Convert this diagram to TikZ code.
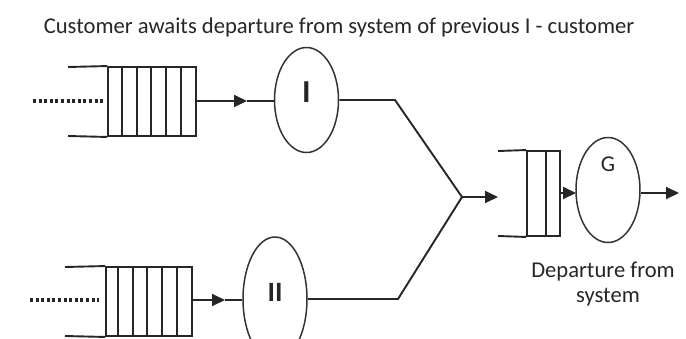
\documentclass[tikz,border=0pt]{standalone}
\usepackage{fontspec}
\setmainfont{Carlito}
\usetikzlibrary{shapes.geometric,arrows.meta}
\begin{document}
\begin{tikzpicture}[x=1pt,y=-1pt,
  ln/.style={line width=1.9pt, draw=black!85},
  srv/.style={ellipse, draw=black!80, line width=1.5pt, inner sep=0pt, minimum width=64pt},
  arr/.style={-{Triangle[length=13pt,width=12pt]}},
  dotline/.style={line width=3.2pt, draw=black!85, dash pattern=on 3pt off 2.6pt},
  txt/.style={font=\fontsize{22.6}{26}\selectfont, text=black!85, inner sep=0pt},
  qbox/.style={draw=black!85, line width=1.9pt, inner sep=0pt},
]
\useasboundingbox (0,0) rectangle (686,338);
% title
\node[txt, anchor=base] (title) at (339,33) {Customer awaits departure from system of previous I - customer};
% queue I
\node[qbox, minimum width=88pt, minimum height=69pt] (q1) at (152,101.5) {};
\coordinate (q1a) at (68,67);
\coordinate (q1b) at (68,136);
\draw[ln] (q1a) -- (q1.north west);
\draw[ln] (q1b) -- (q1.south west);
\foreach \x in {122,137,151,166,181} \draw[ln] (\x,67) -- (\x,136);
\coordinate (d1a) at (33,101);
\coordinate (d1b) at (103,101);
\draw[dotline] (d1a) -- (d1b);
% server I
\node[srv, minimum height=105pt, label={[txt, font=\fontsize{32}{36}\selectfont\bfseries, yshift=8pt]center:I}] (e1) at (306.5,100) {};
\coordinate (t1) at (247,101);
\draw[ln, arr] (q1.east |- t1) -- (t1);
\draw[ln] (t1) -- (e1.west |- t1);
% queue II
\node[qbox, minimum width=86pt, minimum height=69pt] (q2) at (149,301.5) {};
\coordinate (q2a) at (65,267);
\coordinate (q2b) at (65,336);
\draw[ln] (q2a) -- (q2.north west);
\draw[ln] (q2b) -- (q2.south west);
\foreach \x in {118.3,132.7,146.7,161.7,177.3} \draw[ln] (\x,267) -- (\x,336);
\coordinate (d2a) at (30,300);
\coordinate (d2b) at (99,300);
\draw[dotline] (d2a) -- (d2b);
% server II
\node[srv, minimum height=124pt, label={[txt, font=\fontsize{28}{32}\selectfont\bfseries, yshift=7pt]center:II}] (e2) at (275,299) {};
\coordinate (t2) at (225,300);
\draw[ln, arr] (q2.east |- t2) -- (t2);
\draw[ln] (t2) -- (e2.west |- t2);
% merge
\coordinate (m) at (462,197);
\coordinate (b1) at (395,100);
\coordinate (b2) at (398,299);
\draw[ln] (e1.east) -- (b1) -- (m);
\draw[ln] (e2.east) -- (b2) -- (m);
% queue G
\node[qbox, minimum width=33pt, minimum height=85pt] (qg) at (543.5,193.5) {};
\coordinate (qga) at (498,151);
\coordinate (qgb) at (498,236);
\draw[ln] (qga) -- (qg.north west);
\draw[ln] (qgb) -- (qg.south west);
\draw[ln] (546,151) -- (546,236);
\draw[ln, arr] (m) -- (qga |- m);
% server G
\node[srv, minimum height=105pt, label={[txt, yshift=26pt]center:G}] (eg) at (608,190) {};
\coordinate (tg) at (576,193);
\draw[ln, arr] (qg.east |- tg) -- (tg);
\coordinate (out) at (679,193);
\draw[ln, arr] (eg.east |- out) -- (out);
% departure text
\node[txt, anchor=base] (dep) at (603,277) {Departure from};
\node[txt, anchor=base] (sys) at (608,302) {system};
\end{tikzpicture}
\end{document}
